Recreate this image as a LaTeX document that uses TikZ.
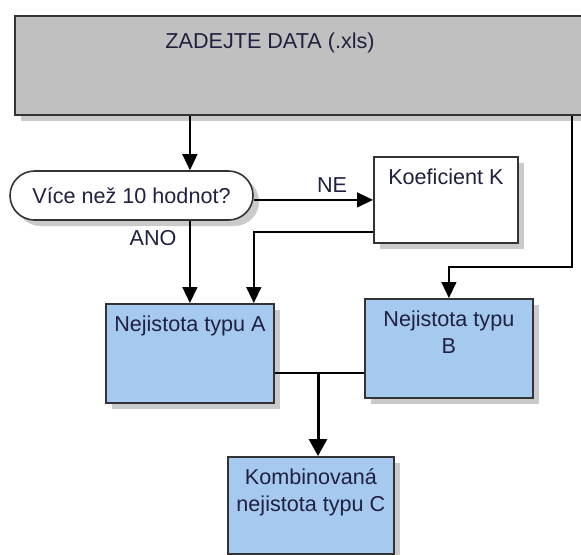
\documentclass[tikz,border=0pt]{standalone}
\usepackage{fontspec}
\setmainfont{Liberation Sans}
\usetikzlibrary{arrows.meta,positioning,calc,shadows}
\definecolor{NJInk}{HTML}{202040}
\definecolor{NJLine}{HTML}{333333}
\definecolor{NJData}{HTML}{C0C0C0}
\definecolor{NJBlue}{HTML}{A6C9EF}
\definecolor{NJShadow}{HTML}{CACACA}
\tikzset{
  flow/.style={-{Triangle[length=8pt,width=7.5pt]},black,line width=0.7pt},
  flowthick/.style={-{Triangle[length=8.5pt,width=9pt]},black,line width=1.5pt},
  joint/.style={black,line width=0.7pt},
  shade/.style={drop shadow={shadow xshift=3pt,shadow yshift=-3pt,fill=NJShadow,opacity=1}},
  box/.style={shade,draw=NJLine,line width=0.9pt,fill=white,anchor=north west,
              inner sep=0pt,text=NJInk},
  boxdata/.style={box,fill=NJData},
  boxblue/.style={box,fill=NJBlue},
  decision/.style={shade,draw=NJLine,line width=0.8pt,fill=white,rounded corners=12.25pt,
                   minimum width=121.5pt,minimum height=24.5pt,inner sep=0pt,text=NJInk},
  intext/.style={anchor=north,yshift=-6pt,inner sep=0pt,text=NJInk,align=center},
  flowlabel/.style={text=NJInk,inner sep=0pt},
}
\begin{document}
\begin{tikzpicture}[x=0.5pt,y=-0.5pt,font=\fontsize{10.8}{13.5}\selectfont]
    \clip (0,0) rectangle (581,554);
    \node[boxdata,minimum width=293pt,minimum height=49.5pt] (datain) at (14,15) {};
    \node[flowlabel] (datatext) at (270,43) {ZADEJTE DATA (.xls)};
    \node[decision] (decide) at (131.5,195.5) {Více než 10 hodnot?};
    \node[box,minimum width=72pt,minimum height=43pt,
          label={[intext]north:Koeficient K}] (koef) at (373,156) {};
    \node[boxblue,minimum width=84pt,minimum height=49.5pt,
          label={[intext]north:Nejistota typu A}] (a) at (105,303) {};
    \node[boxblue,minimum width=84pt,minimum height=49.5pt,
          label={[intext]north:Nejistota typu\\B}] (b) at (364,298) {};
    \node[boxblue,minimum width=83pt,minimum height=48.5pt,
          label={[intext]north:Kombinovaná\\nejistota typu C}] (c) at (227,456) {};
    \node[flowlabel] (ne) at (332,185) {NE};
    \node[flowlabel] (ano) at (153,238) {ANO};
    \coordinate (rbend) at (572,267);
    \coordinate (join) at (318,373);
    \draw[flow] (datain.south -| a.north) -- (decide.north -| a.north);
    \draw[flow] (decide.south -| a.north) -- (a.north);
    \draw[flow] (decide.east |- koef.west) -- (koef.west);
    \draw[flow] ([yshift=6pt]koef.south west) -| ([xshift=-10.5pt]a.north east);
    \draw[flow] (datain.south -| rbend) -- (rbend) -| (b.north);
    \draw[joint] (a.east |- join) -- (b.west |- join);
    \draw[flowthick] (join) -- (join |- c.north);
  \end{tikzpicture}
\end{document}
